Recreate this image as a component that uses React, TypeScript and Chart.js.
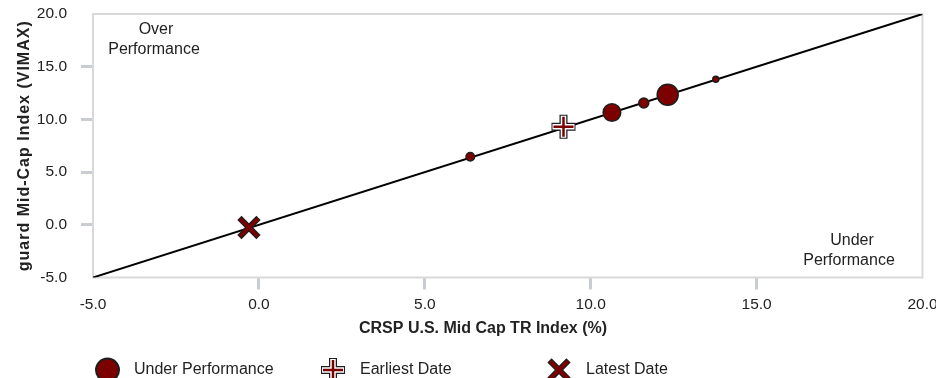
import React, { useEffect, useRef } from 'react';
import { Chart, registerables } from 'chart.js';
import { drawPoint } from 'chart.js/helpers';

Chart.register(...registerables);

// ---- data ----
const axisMin = -5;
const axisMax = 20;
const axisStep = 5;
const periodX = [6.37, 10.64, 11.6, 12.32, 13.77];
const periodY = [6.46, 10.65, 11.56, 12.34, 13.81];
const periodWeight = [4.3, 8.8, 5.0, 10.5, 3.0];
const earliestX = [9.18];
const earliestY = [9.31];
const latestX = [-0.3];
const latestY = [-0.26];
const refLineX = [-5, 20];
const refLineY = [-5, 20];
const xTitle = 'CRSP U.S. Mid Cap TR Index (%)';
const yTitle = 'guard Mid-Cap Index (VIMAX)';
const overLabel = ['Over', 'Performance'];
const underLabel = ['Under', 'Performance'];
const legendLabels = ['Under Performance', 'Earliest Date', 'Latest Date'];

const FONT = "'Liberation Sans', Arial, sans-serif";
const RED = '#7d0000';
const DARK = '#1e1e1e';
const TEXT = '#222222';
const TICK = '#c9cdd2';
const BORDER = '#d9d9d9';

const pts = (xs: number[], ys: number[]) => xs.map((x, i) => ({ x, y: ys[i] }));

const drawLayered = (ctx: CanvasRenderingContext2D, layers: any[], x: number, y: number) => {
  layers.forEach((l) => {
    ctx.save();
    ctx.strokeStyle = l.borderColor;
    ctx.fillStyle = l.backgroundColor;
    ctx.lineWidth = l.borderWidth;
    drawPoint(ctx, { pointStyle: l.pointStyle, radius: l.radius, borderWidth: l.borderWidth, rotation: 0 } as any, x, y);
    ctx.restore();
  });
};

const plusLayers = [
  { pointStyle: 'cross', radius: 12, borderWidth: 8, borderColor: DARK, backgroundColor: DARK },
  { pointStyle: 'cross', radius: 11, borderWidth: 5.5, borderColor: '#ffffff', backgroundColor: '#ffffff' },
  { pointStyle: 'cross', radius: 10, borderWidth: 2.5, borderColor: RED, backgroundColor: RED },
];
const xLayers = [
  { pointStyle: 'crossRot', radius: 13.5, borderWidth: 6, borderColor: DARK, backgroundColor: DARK },
  { pointStyle: 'crossRot', radius: 12.5, borderWidth: 3.5, borderColor: RED, backgroundColor: RED },
];

const textPlugin = {
  id: 'texts',
  beforeDatasetsDraw(chart: any) {
    const { ctx, chartArea } = chart;
    ctx.save();
    ctx.strokeStyle = BORDER;
    ctx.lineWidth = 2;
    ctx.strokeRect(chartArea.left, chartArea.top, chartArea.right - chartArea.left, chartArea.bottom - chartArea.top);
    ctx.restore();
  },
  afterDraw(chart: any) {
    const { ctx, chartArea } = chart;
    ctx.save();
    ctx.fillStyle = TEXT;
    ctx.textBaseline = 'middle';
    ctx.textAlign = 'center';
    // quadrant labels
    ctx.font = `16px ${FONT}`;
    ctx.fillText(overLabel[0], 156, 30);
    ctx.fillText(overLabel[1], 154, 50);
    ctx.fillText(underLabel[0], 852, 241);
    ctx.fillText(underLabel[1], 849, 261);
    // x title
    ctx.font = `bold 16px ${FONT}`;
    ctx.fillText(xTitle, 483, 329);
    // y title
    ctx.save();
    ctx.translate(25, (chartArea.top + chartArea.bottom) / 2);
    ctx.rotate(-Math.PI / 2);
    (ctx as any).letterSpacing = '1px';
    ctx.fillText(yTitle, 0, 0);
    ctx.restore();
    // legend
    ctx.font = `16px ${FONT}`;
    ctx.textAlign = 'left';
    const ly = 370;
    ctx.save();
    ctx.fillStyle = RED;
    ctx.strokeStyle = DARK;
    ctx.lineWidth = 2;
    drawPoint(ctx, { pointStyle: 'circle', radius: 11.5, borderWidth: 2, rotation: 0 } as any, 107.5, ly);
    ctx.restore();
    drawLayered(ctx, plusLayers, 333, ly);
    drawLayered(ctx, xLayers, 559, ly);
    ctx.fillStyle = TEXT;
    ctx.fillText(legendLabels[0], 134, ly);
    ctx.fillText(legendLabels[1], 360, ly);
    ctx.fillText(legendLabels[2], 586, ly);
    ctx.restore();
  },
};

const tickColor = (c: any) => (c.tick && (c.tick.value === axisMin || c.tick.value === axisMax) ? 'rgba(0,0,0,0)' : TICK);

export default function App() {
  const ref = useRef<HTMLCanvasElement>(null);
  useEffect(() => {
    if (!ref.current) return;
    Chart.defaults.font.family = FONT;
    const layered = (layers: any[], xs: number[], ys: number[], base: number) =>
      layers.map((l, i) => ({
        type: 'scatter' as const,
        data: pts(xs, ys),
        pointStyle: l.pointStyle,
        pointRadius: l.radius,
        pointBorderWidth: l.borderWidth,
        pointBorderColor: l.borderColor,
        pointBackgroundColor: l.backgroundColor,
        order: base - i,
        clip: false as any,
      }));
    const chart = new Chart(ref.current, {
      type: 'scatter',
      data: {
        datasets: [
          {
            type: 'line',
            data: pts(refLineX, refLineY),
            borderColor: '#000000',
            borderWidth: 2,
            pointRadius: 0,
            order: 20,
          } as any,
          {
            type: 'scatter',
            data: pts(periodX, periodY),
            pointRadius: periodWeight,
            pointBackgroundColor: RED,
            pointBorderColor: DARK,
            pointBorderWidth: 1.5,
            order: 10,
          },
          ...layered(plusLayers, earliestX, earliestY, 9),
          ...layered(xLayers, latestX, latestY, 5),
        ],
      },
      options: {
        responsive: false,
        animation: false,
        events: [],
        devicePixelRatio: 1,
        layout: { autoPadding: false, padding: { left: 0, right: 13.5, top: 14, bottom: 0 } },
        plugins: { legend: { display: false }, tooltip: { enabled: false } },
        scales: {
          x: {
            type: 'linear',
            min: axisMin,
            max: axisMax,
            afterFit: (s: any) => {
              s.height = 100.5;
              s.paddingLeft = 0;
              s.paddingRight = 0;
            },
            ticks: {
              stepSize: axisStep,
              color: TEXT,
              font: { size: 15.5, family: FONT },
              padding: 6,
              maxRotation: 0,
              callback: (v: any) => Number(v).toFixed(1),
            },
            grid: { drawOnChartArea: false, drawTicks: true, tickLength: 12, tickWidth: 3, tickColor, color: TICK },
            border: { display: false },
          },
          y: {
            type: 'linear',
            min: axisMin,
            max: axisMax,
            afterFit: (s: any) => {
              s.width = 93;
              s.paddingTop = 0;
              s.paddingBottom = 0;
            },
            ticks: {
              stepSize: axisStep,
              color: TEXT,
              font: { size: 15.5, family: FONT },
              padding: 14,
              callback: (v: any) => Number(v).toFixed(1),
            },
            grid: { drawOnChartArea: false, drawTicks: true, tickLength: 12, tickWidth: 3, tickColor, color: TICK },
            border: { display: false },
          },
        },
      },
      plugins: [textPlugin],
    } as any);
    return () => chart.destroy();
  }, []);
  return (
    <div style={{ position: 'absolute', left: 0, top: 0, width: 936, height: 378, background: '#ffffff' }}>
      <canvas ref={ref} width={936} height={378} style={{ display: 'block' }} />
    </div>
  );
}
